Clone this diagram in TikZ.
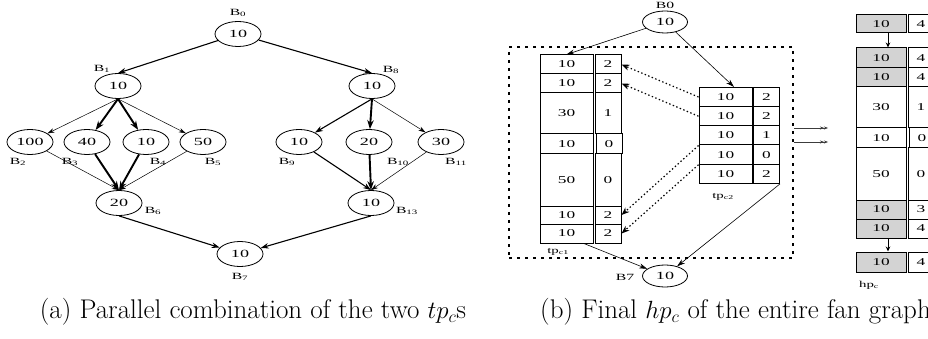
\documentclass[tikz,border=0pt]{standalone}
\usepackage{fontspec}
\usetikzlibrary{arrows.meta,shapes.geometric}
\newfontfamily\figfont[FakeStretch=1.65]{Liberation Serif}
\definecolor{CellGray}{RGB}{211,211,211}
\definecolor{DarkLine}{RGB}{60,60,60}
\tikzset{
  bnode/.style={ellipse,draw,line width=0.8pt,minimum width=46pt,
    minimum height=25pt,inner sep=0pt,font=\fontsize{11}{11}\figfont},
  blabel/.style={inner sep=0pt,font=\fontsize{9.5}{9.5}\figfont},
  cell/.style={draw,line width=1pt,inner sep=0pt,
    font=\fontsize{10.5}{10.5}\figfont},
  cellA/.style={cell,minimum width=53pt},
  cellB/.style={cell,minimum width=26pt},
  shade/.style={fill=CellGray},
  thinarr/.style={-{Stealth[length=7pt,width=4.5pt]},line width=0.5pt},
  medarr/.style={-{Stealth[length=8pt,width=5.5pt]},line width=1.1pt},
  thkarr/.style={-{Stealth[length=9pt,width=6.5pt]},line width=1.9pt},
  linkarr/.style={-{Stealth[length=8pt,width=5pt]},line width=0.6pt},
  dotarr/.style={-{Stealth[length=8pt,width=6pt]},line width=1.2pt,
    dash pattern=on 1.4pt off 2.4pt},
  hparr/.style={-{Stealth[length=5pt,width=4.5pt]},line width=1pt},
  dblarr/.style={-{Stealth[length=4pt,width=3pt]Stealth[length=4pt,width=3pt]},
    line width=0.6pt,DarkLine},
  parbox/.style={draw,line width=2.5pt,dash pattern=on 3pt off 5pt,
    minimum width=284pt,minimum height=211pt,inner sep=0pt},
  caption/.style={inner sep=0pt,font=\fontsize{27}{30}\selectfont}
}

\begin{document}
\begin{tikzpicture}[x=1pt,y=-1pt]
  \useasboundingbox (0,0) rectangle (928,339);

  % (a) the fan graph
  \node[bnode] (b0) at (238,34) {10};
  \node[bnode] (b1) at (118,86) {10};
  \node[bnode] (b8) at (372,86) {10};
  \node[bnode] (b2) at (30,142) {100};
  \node[bnode] (b3) at (87,142) {40};
  \node[bnode] (b4) at (146,142) {10};
  \node[bnode] (b5) at (203,142) {50};
  \node[bnode] (b9) at (299,142) {10};
  \node[bnode] (b10) at (369,142) {20};
  \node[bnode] (b11) at (441,142) {30};
  \node[bnode] (b6) at (119,203) {20};
  \node[bnode] (b13) at (371,203) {10};
  \node[bnode] (b7) at (240,254) {10};

  \node[blabel] at (238,13) {B\textsubscript{0}};
  \node[blabel] at (102,69) {B\textsubscript{1}};
  \node[blabel] at (391,70) {B\textsubscript{8}};
  \node[blabel] at (18,162) {B\textsubscript{2}};
  \node[blabel] at (70,162) {B\textsubscript{3}};
  \node[blabel] at (158,162) {B\textsubscript{4}};
  \node[blabel] at (213,162) {B\textsubscript{5}};
  \node[blabel] at (287,162) {B\textsubscript{9}};
  \node[blabel] at (398,162) {B\textsubscript{10}};
  \node[blabel] at (456,162) {B\textsubscript{11}};
  \node[blabel] at (153,211) {B\textsubscript{6}};
  \node[blabel] at (407,211) {B\textsubscript{13}};
  \node[blabel] at (240,277) {B\textsubscript{7}};

  \draw[medarr] (b0) -- (b1.north);
  \draw[medarr] (b0) -- (b8.north);
  \draw[thinarr] (b1.south) -- (b2);
  \draw[thkarr] (b1.south) -- (b3);
  \draw[thkarr] (b1.south) -- (b4);
  \draw[thinarr] (b1.south) -- (b5);
  \draw[thinarr] (b2) -- (b6.north);
  \draw[thkarr] (b3) -- (b6.north);
  \draw[thkarr] (b4) -- (b6.north);
  \draw[thinarr] (b5) -- (b6.north);
  \draw[medarr] (b8.south) -- (b9);
  \draw[thkarr] (b8.south) -- (b10);
  \draw[thinarr] (b8.south) -- (b11);
  \draw[medarr] (b9) -- (b13.north);
  \draw[thkarr] (b10) -- (b13.north);
  \draw[thinarr] (b11) -- (b13.north);
  \draw[medarr] (b6.south) -- (b7);
  \draw[medarr] (b13.south) -- (b7);

  \node[caption] (capa) at (253,312) {(a) Parallel combination of the two $tp_c$s};

  % (b) the two tpc tables inside the dotted box
  \node[parbox] (par) at (651,152.5) {};

  \node[bnode,minimum width=45pt,minimum height=22pt] (r0) at (665,22) {10};
  \node[blabel] at (665,5) {B0};
  \node[bnode,minimum width=45pt,minimum height=22pt] (r7) at (665,276) {10};
  \node[blabel] at (625,277) {B7};

  \node[cellA,minimum height=19pt] (c1r1a) at (566.5,64.5) {10};
  \node[cellB,minimum height=19pt] (c1r1b) at (608,64.5) {2};
  \node[cellA,minimum height=19pt] (c1r2a) at (566.5,83.5) {10};
  \node[cellB,minimum height=19pt] (c1r2b) at (608,83.5) {2};
  \node[cellA,minimum height=41pt] (c1r3a) at (566.5,113.5) {30};
  \node[cellB,minimum height=41pt] (c1r3b) at (608,113.5) {1};
  \node[cellA,minimum height=20pt] (c1r4a) at (566.5,144) {10};
  \node[cellB,minimum height=20pt] (c1r4b) at (609,144) {0};
  \node[cellA,minimum height=52pt] (c1r5a) at (566.5,180) {50};
  \node[cellB,minimum height=52pt] (c1r5b) at (608,180) {0};
  \node[cellA,minimum height=18pt] (c1r6a) at (566.5,215) {10};
  \node[cellB,minimum height=18pt] (c1r6b) at (608,215) {2};
  \node[cellA,minimum height=19pt] (c1r7a) at (566.5,233.5) {10};
  \node[cellB,minimum height=19pt] (c1r7b) at (608,233.5) {2};
  \node[blabel,font=\fontsize{9}{9}\figfont] at (558,252) {tp\textsubscript{c1}};

  \node[cellA,minimum height=19.2pt] (c2r1a) at (725.5,97) {10};
  \node[cellB,minimum height=19.2pt] (c2r1b) at (766.5,97) {2};
  \node[cellA,minimum height=19.2pt] (c2r2a) at (725.5,116.2) {10};
  \node[cellB,minimum height=19.2pt] (c2r2b) at (766.5,116.2) {2};
  \node[cellA,minimum height=19.2pt] (c2r3a) at (725.5,135.4) {10};
  \node[cellB,minimum height=19.2pt] (c2r3b) at (766.5,135.4) {1};
  \node[cellA,minimum height=19.2pt] (c2r4a) at (725.5,154.6) {10};
  \node[cellB,minimum height=19.2pt] (c2r4b) at (766.5,154.6) {0};
  \node[cellA,minimum height=19.2pt] (c2r5a) at (725.5,173.8) {10};
  \node[cellB,minimum height=19.2pt] (c2r5b) at (766.5,173.8) {2};
  \node[blabel,font=\fontsize{9}{9}\figfont] at (723,197) {tp\textsubscript{c2}};

  \draw[linkarr] (r0) -- (c1r1a.north);
  \draw[linkarr] (r0) -- (c2r1a.50);
  \draw[linkarr] (c1r7a.-30) -- (r7);
  \draw[linkarr] (c2r5b.south east) -- (r7);

  \draw[dotarr] (c2r1a.west) -- (c1r1b.east);
  \draw[dotarr] (c2r2a.west) -- (c1r2b.east);
  \draw[dotarr] (c2r3a.south west) -- (c1r6b.east);
  \draw[dotarr] (c2r4a.south west) -- (c1r7b.east);

  \coordinate (out1) at (828,128);
  \coordinate (out2) at (828,142);
  \draw[dblarr] (par.east |- out1) -- (out1);
  \draw[dblarr] (par.east |- out2) -- (out2);

  % final hpc
  \node[cellA,shade,minimum width=50pt,minimum height=18pt] (hp0a) at (881,24) {10};
  \node[cellB,minimum height=18pt] (hp0b) at (921,24) {4};
  \node[cellA,shade,minimum width=50pt,minimum height=20pt] (hp1a) at (881,58) {10};
  \node[cellB,minimum height=20pt] (hp1b) at (921,58) {4};
  \node[cellA,shade,minimum width=50pt,minimum height=19pt] (hp2a) at (881,77.5) {10};
  \node[cellB,minimum height=19pt] (hp2b) at (921,77.5) {4};
  \node[cellA,minimum width=50pt,minimum height=41pt] (hp3a) at (881,107.5) {30};
  \node[cellB,minimum height=41pt] (hp3b) at (921,107.5) {1};
  \node[cellA,minimum width=50pt,minimum height=20pt] (hp4a) at (881,138) {10};
  \node[cellB,minimum height=20pt] (hp4b) at (922,138) {0};
  \node[cellA,minimum width=50pt,minimum height=52pt] (hp5a) at (881,174) {50};
  \node[cellB,minimum height=52pt] (hp5b) at (921,174) {0};
  \node[cellA,shade,minimum width=50pt,minimum height=19pt] (hp6a) at (881,209.5) {10};
  \node[cellB,minimum height=19pt] (hp6b) at (921,209.5) {3};
  \node[cellA,shade,minimum width=50pt,minimum height=19pt] (hp7a) at (881,228.5) {10};
  \node[cellB,minimum height=19pt] (hp7b) at (921,228.5) {4};
  \node[cellA,shade,minimum width=50pt,minimum height=20pt] (hp8a) at (881,262) {10};
  \node[cellB,minimum height=20pt] (hp8b) at (921,262) {4};
  \node[blabel,font=\fontsize{9}{9}\figfont] at (869,285) {hp\textsubscript{c}};

  \draw[hparr] ([xshift=7pt]hp0a.south) -- ([xshift=7pt]hp1a.north);
  \draw[hparr] ([xshift=7pt]hp7a.south) -- ([xshift=7pt]hp8a.north);

  \node[caption,anchor=west] (capb) at (540,312) {(b) Final $hp_c$ of the entire fan graph};
\end{tikzpicture}
\end{document}
